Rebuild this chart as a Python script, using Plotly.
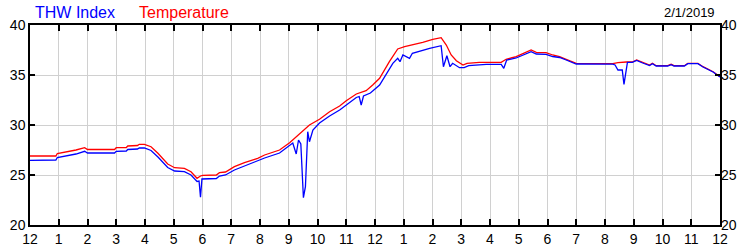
import plotly.graph_objects as go

# Temperature (red) series: hour of day -> value
temp_hours = [0.0, 0.9, 0.95, 1.3, 1.6, 1.9, 2.0, 2.94, 3.0, 3.35, 3.4, 3.74, 3.8, 3.98,
              4.21, 4.45, 4.79, 5.03, 5.37, 5.6, 5.81, 5.93, 6.01, 6.48, 6.59, 6.8, 7.11,
              7.46, 7.92, 8.16, 8.68, 9.03, 9.72, 10.07, 10.42, 10.77, 11.0, 11.35, 11.69,
              11.92, 12.16, 12.5, 12.79, 13.03, 13.31, 13.66, 14.01, 14.3, 14.48, 14.65,
              14.83, 15.06, 15.2, 15.63, 16.39, 16.56, 16.91, 17.26, 17.43, 17.61, 17.95,
              18.18, 18.42, 18.65, 18.88, 19.0, 20.27, 20.45, 20.74, 20.95, 21.1, 21.31,
              21.55, 21.65, 21.78, 22.18, 22.3, 22.4, 22.76, 22.88, 23.23, 23.41, 23.76, 24.0]
temp_values = [26.9, 26.9, 27.15, 27.3, 27.5, 27.73, 27.55, 27.55, 27.73, 27.75, 27.9, 27.95,
               28.07, 28.07, 27.83, 27.17, 26.1, 25.73, 25.67, 25.33, 24.67, 24.9, 24.97, 25.0,
               25.23, 25.3, 25.83, 26.23, 26.67, 27.0, 27.5, 28.23, 30.0, 30.57, 31.33, 31.9,
               32.43, 33.1, 33.43, 34.0, 34.67, 36.33, 37.6, 37.83, 38.0, 38.27, 38.57, 38.73,
               38.0, 37.0, 36.43, 36.0, 36.17, 36.27, 36.27, 36.57, 36.83, 37.33, 37.5, 37.27,
               37.23, 37.0, 36.83, 36.57, 36.27, 36.17, 36.13, 36.23, 36.3, 36.3, 36.5, 36.23,
               36.0, 36.17, 35.93, 35.93, 36.07, 35.93, 35.93, 36.17, 36.17, 35.83, 35.33, 34.83]

# THW Index (blue) series
thw_hours = [0.0, 0.9, 0.95, 1.3, 1.6, 1.9, 2.0, 2.94, 3.0, 3.35, 3.4, 3.74, 3.8, 3.98,
             4.21, 4.45, 4.79, 5.03, 5.37, 5.6, 5.81, 5.88, 5.93, 5.98, 6.48, 6.59, 6.8,
             7.11, 7.46, 7.92, 8.16, 8.68, 9.03, 9.14, 9.26, 9.34, 9.42, 9.51, 9.58, 9.66,
             9.72, 9.84, 10.07, 10.42, 10.77, 11.0, 11.35, 11.45, 11.52, 11.6, 11.84, 12.16,
             12.62, 12.79, 12.87, 12.97, 13.2, 13.3, 13.55, 13.9, 14.3, 14.38, 14.5, 14.61,
             14.7, 14.94, 15.1, 15.26, 15.87, 16.39, 16.48, 16.58, 16.91, 17.26, 17.43, 17.61,
             17.95, 18.18, 18.42, 18.65, 18.88, 19.0, 20.27, 20.35, 20.45, 20.6, 20.66, 20.78,
             20.95, 21.1, 21.31, 21.55, 21.65, 21.78, 22.18, 22.3, 22.4, 22.76, 22.88, 23.23,
             23.41, 23.76, 24.0]
thw_values = [26.47, 26.5, 26.75, 26.9, 27.1, 27.37, 27.2, 27.2, 27.37, 27.4, 27.55, 27.6,
              27.7, 27.7, 27.45, 26.8, 25.75, 25.4, 25.33, 25.0, 24.35, 24.4, 22.77, 24.6,
              24.65, 24.9, 25.0, 25.5, 25.9, 26.35, 26.7, 27.2, 27.9, 28.2, 27.1, 28.5, 28.1,
              22.73, 23.83, 29.33, 28.33, 29.5, 30.2, 30.9, 31.5, 32.0, 32.75, 32.85, 32.0,
              32.9, 33.2, 34.0, 36.17, 36.67, 36.33, 37.0, 36.67, 37.17, 37.4, 37.67, 37.93,
              35.83, 36.93, 35.83, 36.17, 35.73, 35.73, 35.93, 36.07, 36.07, 35.67, 36.5, 36.7,
              37.17, 37.33, 37.1, 37.07, 36.85, 36.75, 36.5, 36.2, 36.1, 36.08, 36.0, 35.5,
              35.5, 34.07, 36.27, 36.27, 36.45, 36.2, 35.95, 36.12, 35.9, 35.9, 36.03, 35.9,
              35.9, 36.13, 36.13, 35.8, 35.3, 34.8]

tick_vals = list(range(0, 25))
tick_text = ["12", "1", "2", "3", "4", "5", "6", "7", "8", "9", "10", "11",
             "12", "1", "2", "3", "4", "5", "6", "7", "8", "9", "10", "11", "12"]
y_ticks = [20, 25, 30, 35, 40]
date_label = "2/1/2019"

FONT = "Liberation Sans, Arial, sans-serif"

fig = go.Figure()
fig.add_trace(go.Scatter(x=temp_hours, y=temp_values, mode="lines",
                         line=dict(color="#ff0000", width=1.3), name="Temperature"))
fig.add_trace(go.Scatter(x=thw_hours, y=thw_values, mode="lines",
                         line=dict(color="#0000ff", width=1.3), name="THW Index"))
# invisible trace to carry the right-hand axis
fig.add_trace(go.Scatter(x=[0, 24], y=[20, 40], mode="lines", yaxis="y2",
                         line=dict(width=0), hoverinfo="skip", showlegend=False, opacity=0))

fig.update_layout(
    width=750, height=250,
    margin=dict(l=30, r=30, t=25, b=25, autoexpand=False),
    paper_bgcolor="white", plot_bgcolor="white",
    showlegend=False,
    font=dict(family=FONT, size=13, color="#000000"),
    xaxis=dict(range=[0, 24], tickvals=tick_vals, ticktext=tick_text, automargin=False,
               showgrid=True, gridcolor="#d0d0d0", gridwidth=1,
               showline=True, linecolor="black", linewidth=1.5, mirror="ticks",
               ticks="inside", ticklen=6, tickcolor="black", tickwidth=1.5,
               zeroline=False, tickfont=dict(size=14)),
    yaxis=dict(range=[20, 40], tickvals=y_ticks, automargin=False,
               showgrid=True, gridcolor="#d0d0d0", gridwidth=1,
               showline=True, linecolor="black", linewidth=1.5, mirror="ticks",
               ticks="inside", ticklen=5, tickcolor="black", tickwidth=1.5,
               zeroline=False, tickfont=dict(size=14)),
    yaxis2=dict(range=[20, 40], tickvals=y_ticks, overlaying="y", side="right",
                automargin=False, showgrid=False, zeroline=False, showline=False, ticks="",
                tickfont=dict(size=14)),
    annotations=[
        dict(text="THW Index", x=33, y=12, xref="paper", yref="paper", showarrow=False,
             font=dict(color="#0000ff", size=16, family=FONT), xanchor="left", yanchor="middle"),
        dict(text="Temperature", x=137, y=12, xref="paper", yref="paper", showarrow=False,
             font=dict(color="#ff0000", size=16, family=FONT), xanchor="left", yanchor="middle"),
        dict(text=date_label, x=717, y=12, xref="paper", yref="paper", showarrow=False,
             font=dict(color="#000000", size=13, family=FONT), xanchor="right", yanchor="middle"),
    ],
)

# convert annotation pixel positions to paper coords
pw, ph = 750 - 60, 250 - 50
for a in fig.layout.annotations:
    a.x = (a.x - 30) / pw
    a.y = (250 - 25 - a.y) / ph

fig.write_html("out.html")
